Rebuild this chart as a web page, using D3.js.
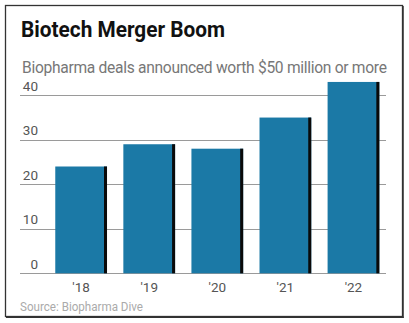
<!DOCTYPE html>
<html><head><meta charset="utf-8">
<script src="https://cdn.jsdelivr.net/npm/d3@7"></script>
<style>html,body{margin:0;padding:0;background:#fff;}svg{display:block;}</style>
</head><body>
<script>
const years = ["'18", "'19", "'20", "'21", "'22"];
const deals = [24, 29, 28, 35, 43];
const yTicks = [0, 10, 20, 30, 40];
const title = "Biotech Merger Boom";
const subtitle = "Biopharma deals announced worth $50 million or more";
const source = "Source: Biopharma Dive";

const W = 409, H = 323;
const svg = d3.select("body").append("svg").attr("width", W).attr("height", H);
svg.append("rect").attr("width", W).attr("height", H).attr("fill", "#fff");

// frame
svg.append("rect").attr("x", 5.5).attr("y", 5.5).attr("width", 397).attr("height", 311)
  .attr("fill", "none").attr("stroke", "#333").attr("stroke-width", 1.3);
svg.append("line").attr("x1", 403).attr("x2", 403).attr("y1", 6).attr("y2", 318).attr("stroke", "#333").attr("stroke-width", 1.5);
svg.append("line").attr("x1", 6).attr("x2", 403.7).attr("y1", 317.2).attr("y2", 317.2).attr("stroke", "#333").attr("stroke-width", 1.6);

const x = d3.scaleBand().domain(years).range([47.1, 387.5]).paddingInner(0.24).paddingOuter(0.12);
const y = d3.scaleLinear().domain([0, 40]).range([273.3, 95.3]);

// gridlines
const gx0 = 20, gx1 = 386;
svg.append("g").selectAll("line").data(yTicks).join("line")
  .attr("x1", gx0).attr("x2", gx1)
  .attr("y1", d => Math.round(y(d)) + 0.5).attr("y2", d => Math.round(y(d)) + 0.5)
  .attr("stroke", "#9a9a9a").attr("stroke-width", 1);

// bars
const bars = svg.append("g");
bars.selectAll("rect.bar").data(deals).join("rect").attr("class", "bar")
  .attr("x", (d, i) => x(years[i])).attr("width", x.bandwidth())
  .attr("y", d => y(d)).attr("height", d => y(0) - y(d))
  .attr("fill", "#1b79a6");
bars.selectAll("rect.edge").data(deals).join("rect").attr("class", "edge")
  .attr("x", (d, i) => x(years[i]) + x.bandwidth() - 3).attr("width", 3)
  .attr("y", d => y(d)).attr("height", d => y(0) - y(d))
  .attr("fill", "#0a0a0a");

// y labels
svg.append("g").selectAll("text").data(yTicks).join("text")
  .attr("x", 38).attr("y", d => y(d) - 4.5)
  .attr("text-anchor", "end")
  .attr("font-family", "Roboto").attr("font-size", 13.5).attr("fill", "#555")
  .text(d => d);

// x labels
svg.append("g").selectAll("text").data(years).join("text")
  .attr("x", d => x(d) + x.bandwidth() / 2).attr("y", 292)
  .attr("text-anchor", "middle")
  .attr("font-family", "Roboto").attr("font-size", 13.5).attr("fill", "#555")
  .text(d => d);

// titles
svg.append("text").attr("x", 21).attr("y", 36.7)
  .attr("font-family", "Roboto").attr("font-weight", "bold").attr("font-size", 22)
  .attr("textLength", 204).attr("lengthAdjust", "spacingAndGlyphs")
  .attr("fill", "#111").text(title);
svg.append("text").attr("x", 22).attr("y", 73.3)
  .attr("font-family", "Roboto").attr("font-size", 15.6)
  .attr("letter-spacing", -0.3)
  .attr("fill", "#777").text(subtitle);
svg.append("text").attr("x", 20).attr("y", 310.5)
  .attr("font-family", "Roboto").attr("font-size", 12.5)
  .attr("textLength", 123).attr("lengthAdjust", "spacingAndGlyphs")
  .attr("fill", "#aaa").text(source);
</script>
</body></html>
